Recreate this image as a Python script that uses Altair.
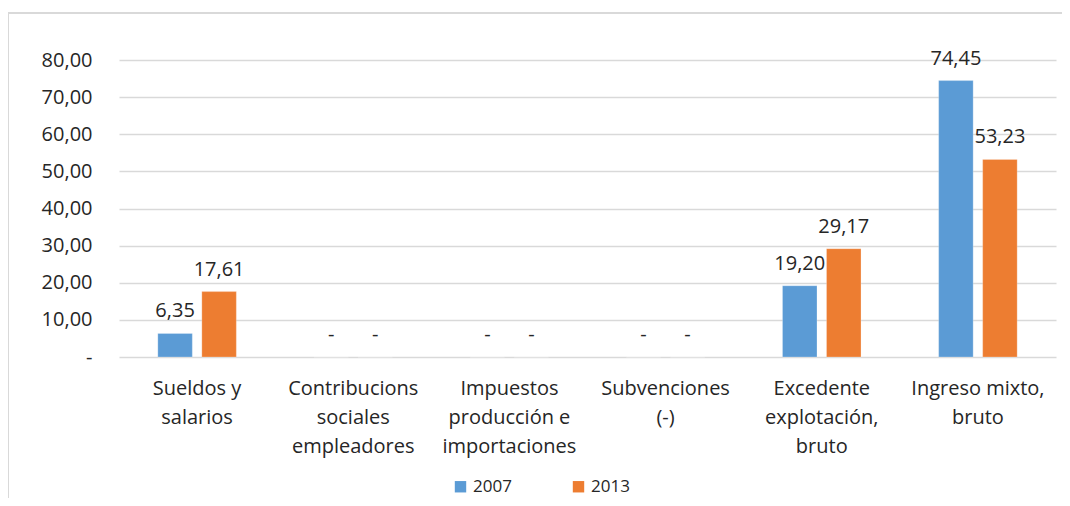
import altair as alt
import pandas as pd

categories = [
    "Sueldos y|salarios",
    "Contribucions|sociales|empleadores",
    "Impuestos|producción e|importaciones",
    "Subvenciones|(-)",
    "Excedente|explotación,|bruto",
    "Ingreso mixto,|bruto",
]
values_2007 = [6.35, 0, 0, 0, 19.20, 74.45]
values_2013 = [17.61, 0, 0, 0, 29.17, 53.23]
years = ["2007", "2013"]

rows = []
for c, a, b in zip(categories, values_2007, values_2013):
    for y, v in zip(years, [a, b]):
        lab = "-" if v == 0 else f"{v:.2f}".replace(".", ",")
        rows.append({"cat": c, "year": y, "value": v, "label": lab})
df = pd.DataFrame(rows)

FONT = "Open Sans"
TXT = "#262626"
FS = 20
W, H = 937, 297

x = alt.X("cat:N", sort=categories, title=None,
          scale=alt.Scale(paddingInner=0, paddingOuter=0),
          axis=alt.Axis(labelExpr="split(datum.label, '|')", labelAngle=0,
                        labelFontSize=FS, labelLineHeight=29, labelPadding=21,
                        labelColor=TXT, labelFont=FONT, domain=False, ticks=False,
                        grid=False, labelLimit=300))
xo = alt.XOffset("year:N", scale=alt.Scale(paddingInner=0.216, paddingOuter=0.882))
y = alt.Y("value:Q", title=None,
          scale=alt.Scale(domain=[0, 80], nice=False),
          axis=alt.Axis(values=[0, 10, 20, 30, 40, 50, 60, 70, 80],
                        tickCount=9,
                        labelExpr="datum.value == 0 ? '-' : replace(format(datum.value, '.2f'), '.', ',')",
                        labelFontSize=FS, labelColor=TXT, labelFont=FONT,
                        labelOverlap=False, labelPadding=27, domain=False, ticks=False,
                        grid=True, gridColor="#D9D9D9", gridWidth=1.3))
color = alt.Color("year:N", scale=alt.Scale(domain=years, range=["#5B9BD5", "#ED7D31"]),
                  legend=alt.Legend(title=None, orient="none", direction="horizontal",
                                    legendX=333, legendY=418, symbolType="square",
                                    symbolSize=130, symbolStrokeWidth=0, labelFontSize=17,
                                    labelFont=FONT, labelColor=TXT, columnPadding=58,
                                    labelOffset=4))

bars = alt.Chart(df).mark_bar(stroke="white", strokeOpacity=0.5, strokeWidth=0.5).encode(
    x=x, xOffset=xo, y=y, color=color)
labels = alt.Chart(df).mark_text(baseline="alphabetic", dy=-16, fontSize=FS,
                                 font=FONT, color=TXT).encode(
    x=x, xOffset=xo, y=y, text="label:N")

border_top = alt.Chart(df).mark_rule(color="#D9D9D9", strokeWidth=2).encode(
    x=alt.value(-111), x2=alt.value(1000), y=alt.value(-47))
border_left = alt.Chart(df).mark_rule(color="#D9D9D9", strokeWidth=2).encode(
    x=alt.value(-111), y=alt.value(-47), y2=alt.value(500))

chart = alt.layer(bars, labels, border_top, border_left).properties(
    width=W, height=H,
    autosize=alt.AutoSizeParams(type="none"),
    padding={"left": 111, "top": 52, "right": 6, "bottom": 141},
).configure(font=FONT).configure_view(stroke=None)

chart.save("out.html", embed_options={"renderer": "svg", "actions": False})
